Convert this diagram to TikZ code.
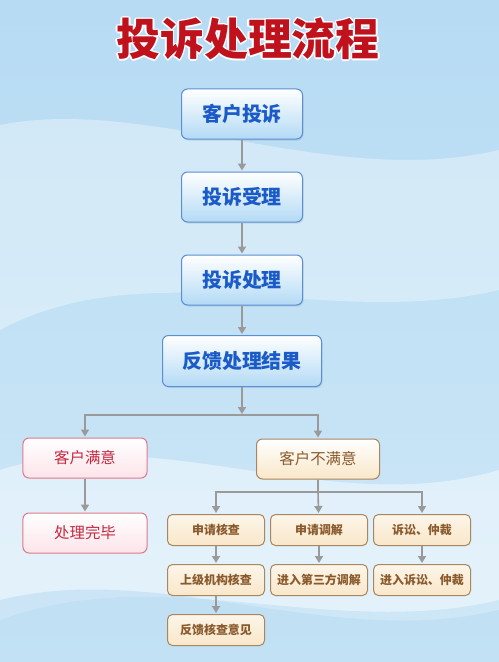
\documentclass[tikz,border=0pt]{standalone}
\usepackage{fontspec}
\setmainfont{Noto Sans CJK SC}
\usepackage{contour}
\usetikzlibrary{arrows.meta,shadows}
\definecolor{skytop}{HTML}{B6DBF3}
\definecolor{skymid}{HTML}{E2F1FA}
\definecolor{skylow}{HTML}{CFE8F7}
\definecolor{titlered}{HTML}{C0121C}
\definecolor{mainline}{HTML}{5A8ED6}
\definecolor{mainfill}{HTML}{B3DAF5}
\definecolor{maintext}{HTML}{1A5BC8}
\definecolor{okline}{HTML}{E0788A}
\definecolor{okfill}{HTML}{FCE4EA}
\definecolor{oktext}{HTML}{C42840}
\definecolor{tanline}{HTML}{A88660}
\definecolor{tanfill}{HTML}{F9E7C9}
\definecolor{tantext}{HTML}{8A5A2C}
\definecolor{conncol}{HTML}{9A9A9A}
\contourlength{1.6pt}
\contournumber{8}

\begin{document}
\begin{tikzpicture}[x=1bp,y=-1bp,
mainbox/.style={draw=mainline,line width=1bp,rounded corners=6bp,
  top color=white,bottom color=mainfill,text=maintext,
  minimum width=121bp,minimum height=50bp,
  font=\bfseries\fontsize{20}{24}\selectfont,
  drop shadow={shadow xshift=1bp,shadow yshift=-1.5bp,opacity=.2}},
okbox/.style={draw=okline,line width=1bp,rounded corners=6bp,
  top color=white,bottom color=okfill,text=oktext,
  minimum width=124bp,minimum height=40bp,
  font=\fontsize{15.5}{18}\selectfont},
tanbox/.style={draw=tanline,line width=1bp,rounded corners=6bp,
  top color=white,bottom color=tanfill,text=tantext,
  minimum width=123bp,minimum height=40bp,
  font=\fontsize{15.5}{18}\selectfont},
smallbox/.style={draw=tanline,line width=1bp,rounded corners=5bp,
  top color=white!60!tanfill,bottom color=tanfill,text=tantext,
  minimum width=97bp,minimum height=31bp,
  font=\bfseries\fontsize{12}{14}\selectfont},
conn/.style={draw=conncol,line width=1.6bp,
  -{Triangle[width=8bp,length=7bp]},shorten >=1bp},
link/.style={draw=conncol,line width=1.6bp}
]
\useasboundingbox (0,0) rectangle (499,662);
% background
\shade[top color=skytop,middle color=skymid,bottom color=skylow]
  (0,0) rectangle (499,662);
\fill[white,opacity=.35] (0,125) .. controls (150,95) and (330,190) .. (499,150)
  -- (499,290) .. controls (330,330) and (150,250) .. (0,330) -- cycle;
\fill[white,opacity=.45] (0,470) .. controls (160,420) and (330,520) .. (499,470)
  -- (499,600) .. controls (330,640) and (160,560) .. (0,620) -- cycle;
\fill[skytop,opacity=.5] (0,600) .. controls (160,560) and (330,650) .. (499,610)
  -- (499,662) -- (0,662) -- cycle;

\node[text=titlered,font=\bfseries\fontsize{44}{48}\selectfont] (title) at (248,40)
  {\contour{white}{投诉处理流程}};

\node[mainbox] (complain) at (242,114) {客户投诉};
\node[mainbox] (accept) at (242,197) {投诉受理};
\node[mainbox] (handle) at (242,280) {投诉处理};
\node[mainbox,minimum width=159bp,minimum height=51bp] (feedback) at (242,361) {反馈处理结果};

\node[okbox] (satisfied) at (85,458) {客户满意};
\node[okbox] (finished) at (85,533) {处理完毕};
\node[tanbox] (unsatisfied) at (318,459) {客户不满意};

\node[smallbox] (check) at (216,530) {申请核查};
\node[smallbox] (mediate) at (319,530) {申请调解};
\node[smallbox] (lawsuit) at (422,530) {诉讼、仲裁};
\node[smallbox] (superior) at (216,580) {上级机构核查};
\node[smallbox] (thirdparty) at (319,580) {进入第三方调解};
\node[smallbox] (litigate) at (422,580) {进入诉讼、仲裁};
\node[smallbox] (opinion) at (216,630) {反馈核查意见};

\coordinate (split) at (242,415);
\coordinate (split2) at (318,492);

\draw[conn] (complain) -- (accept);
\draw[conn] (accept) -- (handle);
\draw[conn] (handle) -- (feedback);
\draw[conn] (feedback) -- (split);
\draw[conn] (split) -| (satisfied);
\draw[conn] (split) -| (unsatisfied);
\draw[conn] (satisfied) -- (finished);
\draw[link] (unsatisfied) -- (split2);
\draw[conn] (split2) -| (check);
\draw[conn] (split2) -- (mediate);
\draw[conn] (split2) -| (lawsuit);
\draw[conn] (check) -- (superior);
\draw[conn] (mediate) -- (thirdparty);
\draw[conn] (lawsuit) -- (litigate);
\draw[conn] (superior) -- (opinion);
\end{tikzpicture}
\end{document}
